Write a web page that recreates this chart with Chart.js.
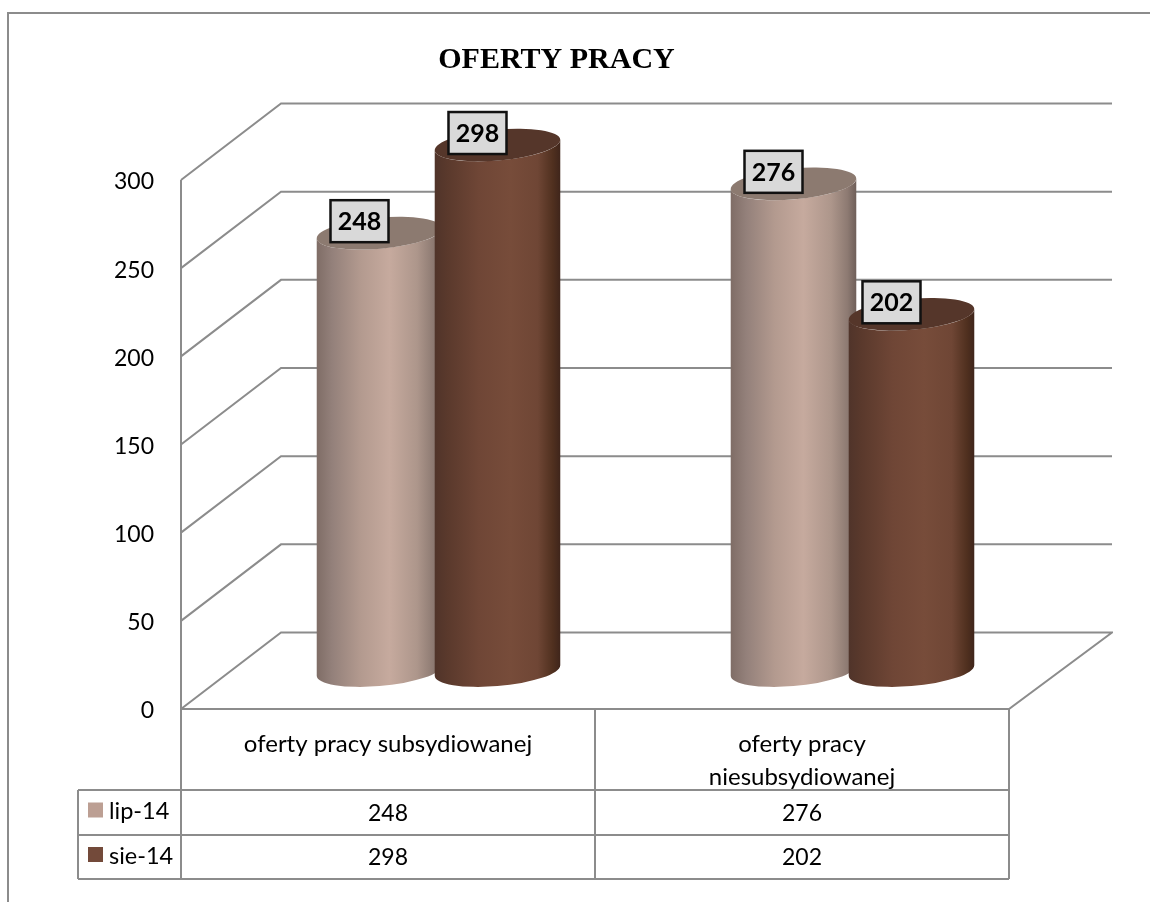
<!DOCTYPE html>
<html>
<head>
<meta charset="utf-8">
<style>
html,body{margin:0;padding:0;background:#fff;width:1150px;height:902px;overflow:hidden}
#frame{position:absolute;left:7px;top:12px;width:1143px;height:890px;border-left:2px solid #8c8c8c;border-top:2px solid #8c8c8c}
#wrap{position:absolute;left:0;top:0;width:1113px;height:902px}
</style>
<script src="https://cdn.jsdelivr.net/npm/chart.js@4/dist/chart.umd.min.js"></script>
</head>
<body>
<div id="frame"></div>
<div id="wrap"><canvas id="c" width="1113" height="902"></canvas></div>
<script>
const categories = ['oferty pracy subsydiowanej', ['oferty pracy', 'niesubsydiowanej']];
const seriesNames = ['lip-14', 'sie-14'];
const lip14 = [248, 276];
const sie14 = [298, 202];
const yTicks = [0, 50, 100, 150, 200, 250, 300];
const chartTitle = 'OFERTY PRACY';

const FONT = 'Lato, Carlito, sans-serif';
const GRID = '#8c8c8c';
const DX = 100, DY = -76.5, BACK_RIGHT = 1112;
const BAR_DX = 50.5, BAR_DY = -38.5;
const looks = [
  {swatch:'#bc9f93', top:'#8c7a70', stops:[[0,'#7f6d66'],[0.12,'#93807a'],[0.35,'#b39a8f'],[0.58,'#c6aa9e'],[0.8,'#ad968b'],[0.93,'#8d7a72'],[1,'#6f5f59']]},
  {swatch:'#734a3a', top:'#55362a', stops:[[0,'#50342a'],[0.1,'#5a392c'],[0.35,'#6f4636'],[0.6,'#774c3a'],[0.82,'#6f4635'],[0.94,'#50301f'],[1,'#3f251b']]}
];

function cylinder(ctx, bar, look, base){
  const a = 63, b = 15.5, r = -5 * Math.PI / 180;
  const cx = bar.x + BAR_DX, topY = bar.y + BAR_DY, botY = base + BAR_DY;
  const t0 = Math.atan(-(b / a) * Math.tan(r));
  const ex = Math.abs(a*Math.cos(t0)*Math.cos(r) - b*Math.sin(t0)*Math.sin(r));
  const g = ctx.createLinearGradient(cx - ex, 0, cx + ex, 0);
  look.stops.forEach(s => g.addColorStop(s[0], s[1]));
  ctx.beginPath();
  ctx.ellipse(cx, topY, a, b, r, Math.PI + t0, t0, true);
  ctx.ellipse(cx, botY, a, b, r, t0, Math.PI + t0, false);
  ctx.closePath();
  ctx.fillStyle = g;
  ctx.fill();
  ctx.beginPath();
  ctx.ellipse(cx, topY, a, b, r, 0, Math.PI * 2);
  ctx.fillStyle = look.top;
  ctx.fill();
}

const scene3d = {
  id: 'scene3d',
  beforeDatasetsDraw(chart){
    const ctx = chart.ctx, ys = chart.scales.y, area = chart.chartArea;
    ctx.save();
    ctx.strokeStyle = GRID; ctx.lineWidth = 2; ctx.lineJoin = 'miter';
    yTicks.forEach(v => {
      const y = ys.getPixelForValue(v);
      ctx.beginPath();
      ctx.moveTo(area.left, y);
      ctx.lineTo(area.left + DX, y + DY);
      ctx.lineTo(BACK_RIGHT, y + DY);
      if (v === 0) { ctx.lineTo(area.right, y); ctx.lineTo(area.left, y); }
      ctx.stroke();
    });
    ctx.beginPath();
    ctx.moveTo(area.left, ys.getPixelForValue(300));
    ctx.lineTo(area.left, ys.getPixelForValue(0));
    ctx.stroke();
    const base = ys.getPixelForValue(0);
    categories.forEach((_, i) => {
      chart.data.datasets.forEach((d, s) => {
        cylinder(ctx, chart.getDatasetMeta(s).data[i], looks[s], base);
      });
    });
    ctx.restore();
    return false;
  },
  afterDraw(chart){
    const ctx = chart.ctx, xs = chart.scales.x, area = chart.chartArea;
    ctx.save();
    // data labels
    chart.data.datasets.forEach((d, s) => {
      chart.getDatasetMeta(s).data.forEach((bar, i) => {
        const cx = bar.x + BAR_DX - 20, cy = bar.y + BAR_DY - 12;
        ctx.fillStyle = '#d9d9d9'; ctx.strokeStyle = '#111'; ctx.lineWidth = 2.5;
        ctx.fillRect(cx - 29, cy - 21, 58, 42);
        ctx.strokeRect(cx - 29, cy - 21, 58, 42);
        ctx.fillStyle = '#000'; ctx.font = 'bold 25px ' + FONT;
        ctx.textAlign = 'center'; ctx.textBaseline = 'middle';
        ctx.fillText(String(d.data[i]), cx, cy + 1);
      });
    });
    // data table
    const rows = [790, 835, 879], legendLeft = 78;
    ctx.strokeStyle = GRID; ctx.lineWidth = 2;
    ctx.beginPath();
    [area.left, (area.left + area.right) / 2, area.right].forEach(x => {
      ctx.moveTo(Math.round(x), area.bottom); ctx.lineTo(Math.round(x), rows[2]);
    });
    rows.forEach(y => { ctx.moveTo(legendLeft, y); ctx.lineTo(area.right, y); });
    ctx.moveTo(legendLeft, rows[0]); ctx.lineTo(legendLeft, rows[2]);
    ctx.stroke();
    ctx.textBaseline = 'middle';
    chart.data.datasets.forEach((d, s) => {
      const mid = (rows[s] + rows[s + 1]) / 2;
      ctx.fillStyle = looks[s].swatch;
      ctx.fillRect(88, mid - 10, 15, 15);
      ctx.fillStyle = '#000'; ctx.textAlign = 'left';
      ctx.font = '23.5px ' + FONT;
      ctx.fillText(d.label, 109, mid - 1);
      ctx.textAlign = 'center';
      ctx.font = '23px ' + FONT;
      d.data.forEach((v, i) => ctx.fillText(String(v), xs.getPixelForValue(i), mid + 1));
    });
    ctx.restore();
  }
};

new Chart(document.getElementById('c'), {
  type: 'bar',
  data: {
    labels: categories,
    datasets: [
      {label: seriesNames[0], data: lip14, backgroundColor: looks[0].swatch, yAxisID: 'y'},
      {label: seriesNames[1], data: sie14, backgroundColor: looks[1].swatch, yAxisID: 'y'}
    ]
  },
  options: {
    responsive: false,
    animation: false,
    categoryPercentage: 0.57,
    barPercentage: 1,
    plugins: {
      legend: {display: false},
      tooltip: {enabled: false},
      title: {
        display: true, text: chartTitle, color: '#000',
        font: {family: '"Liberation Serif", serif', size: 30, weight: 'bold'},
        padding: {top: 42, bottom: 102}, align: 'center'
      }
    },
    scales: {
      x: {
        grid: {display: false, drawTicks: false}, border: {display: false},
        ticks: {color: '#000', font: {family: FONT, size: 24, lineHeight: 1.4}, padding: 18, maxRotation: 0, minRotation: 0, autoSkip: false},
        afterFit: s => { s.height = 193; }
      },
      y: {
        min: 0, max: 300,
        grid: {display: false, drawTicks: false}, border: {display: false},
        ticks: {color: '#000', font: {family: FONT, size: 23}, padding: 27, stepSize: 50, callback: v => yTicks.includes(v) ? String(v) : ''},
        afterFit: s => {
          s.width = 181;
          if (!s._shifted) {
            const draw = s.drawLabels;
            s.drawLabels = function (a) {
              this.ctx.save(); this.ctx.translate(0, 2);
              draw.call(this, a);
              this.ctx.restore();
            };
            s._shifted = true;
          }
        }
      },
      depthRoom: {
        axis: 'y', position: 'right', min: 0, max: 1,
        grid: {display: false, drawTicks: false}, border: {display: false},
        ticks: {display: false},
        afterFit: s => { s.width = 104; }
      }
    }
  },
  plugins: [scene3d]
});
</script>
</body>
</html>
